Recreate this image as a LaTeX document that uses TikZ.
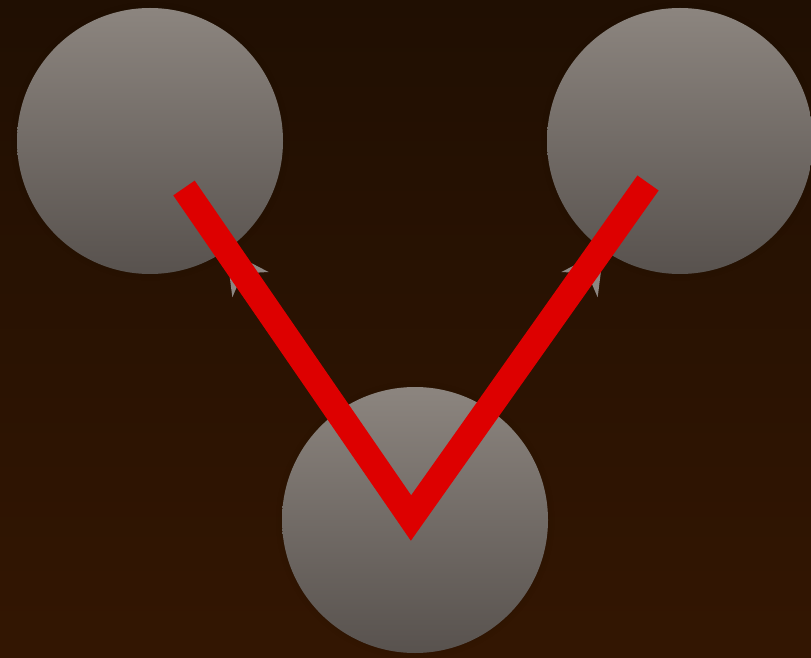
\documentclass[tikz,border=0pt]{standalone}
\usetikzlibrary{arrows.meta,shadows,fadings}
\definecolor{bgtop}{RGB}{32,15,2}
\definecolor{bgbot}{RGB}{51,22,2}
\definecolor{balltop}{RGB}{140,133,127}
\definecolor{ballbot}{RGB}{88,82,78}
\definecolor{vred}{RGB}{221,0,0}
\definecolor{tipgray}{RGB}{140,134,130}
\tikzset{
  ball/.style={circle, minimum size=266pt, inner sep=0pt, draw=none,
    top color=balltop, bottom color=ballbot,
    circular glow={fill=black, opacity=0.15, shadow scale=1.05}},
  conn/.style={draw=tipgray, line width=2pt,
    -{Stealth[length=42pt,width=44pt]}},
  redv/.style={draw=vred, line width=26pt, line join=miter, line cap=butt}
}
\begin{document}
\begin{tikzpicture}[x=1pt,y=1pt]
\useasboundingbox (0,0) rectangle (811,657);
\shade[top color=bgtop, bottom color=bgbot] (0,0) rectangle (811,657);
\node[ball] (a) at (150,516) {};
\node[ball] (b) at (680,516) {};
\node[ball] (c) at (415,137) {};
\draw[conn] (c) -- (a);
\draw[conn] (c) -- (b);
\coordinate (p1) at (184,469);
\coordinate (p2) at (411,139);
\coordinate (p3) at (648,474);
\draw[redv] (p1) -- (p2) -- (p3);
\end{tikzpicture}
\end{document}
